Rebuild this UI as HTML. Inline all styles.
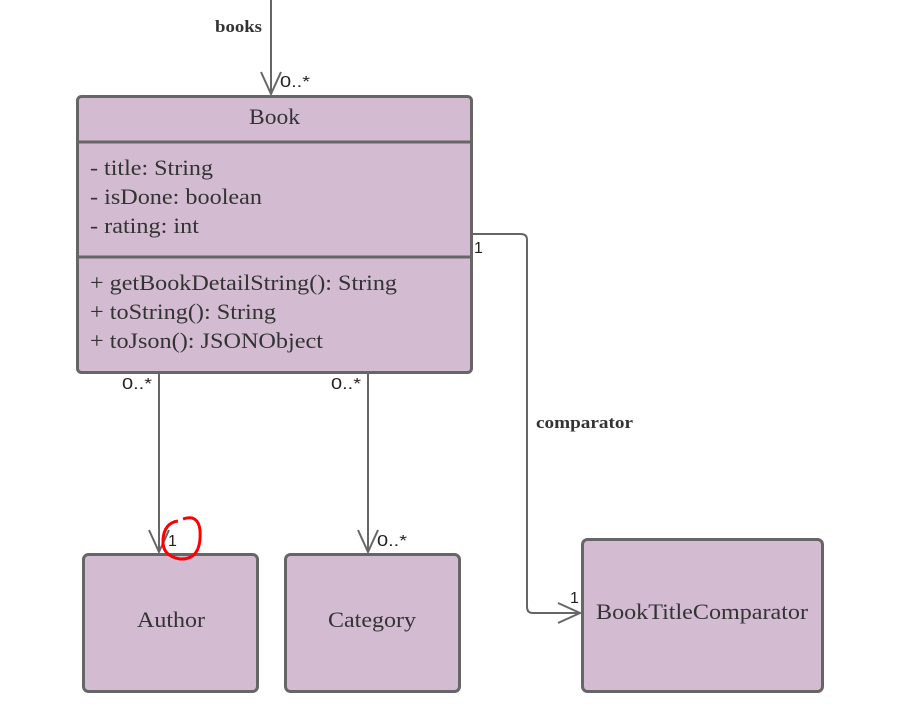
<!DOCTYPE html>
<html><head><meta charset="utf-8"><style>
html,body{margin:0;padding:0;background:#fff;}
svg{display:block}
.s{font-family:"Liberation Serif",serif;fill:#333;}
.a{font-family:"Liberation Sans",sans-serif;fill:#222;font-size:16px;}
</style></head><body>
<svg width="899" height="719" viewBox="0 0 899 719" xmlns="http://www.w3.org/2000/svg">
<g fill="#d3bbd2" stroke="#666" stroke-width="3">
<rect x="77.5" y="96.5" width="394" height="276" rx="4"/>
<rect x="83.5" y="554.5" width="174" height="137" rx="5"/>
<rect x="285.5" y="554.5" width="174" height="137" rx="5"/>
<rect x="582.5" y="539.5" width="240" height="152" rx="5"/>
</g>
<g stroke="#666" stroke-width="3"><line x1="77" y1="142" x2="472" y2="142"/><line x1="77" y1="257" x2="472" y2="257"/></g>
<g fill="none" stroke="#666" stroke-width="2">
<line x1="271" y1="0" x2="271" y2="94"/><polyline points="261,72 271,94 281,72"/>
<line x1="159" y1="374" x2="159" y2="552"/><polyline points="149,530 159,552 169,530"/>
<line x1="368" y1="374" x2="368" y2="552"/><polyline points="358,530 368,552 378,530"/>
<path d="M473 234 H521 Q527 234 527 240 V607 Q527 613 533 613 H580"/><polyline points="558,603 580,613 558,623"/>
</g>
<text x="215" y="32" class="s" font-size="17" font-weight="bold" textLength="47" lengthAdjust="spacingAndGlyphs">books</text>
<text x="536" y="428" class="s" font-size="17" font-weight="bold" textLength="97" lengthAdjust="spacingAndGlyphs">comparator</text>
<text x="280" y="87" class="a" textLength="30" lengthAdjust="spacingAndGlyphs">0..*</text>
<text x="474" y="253" class="a">1</text>
<text x="122" y="389" class="a" textLength="30" lengthAdjust="spacingAndGlyphs">0..*</text>
<text x="331" y="389" class="a" textLength="30" lengthAdjust="spacingAndGlyphs">0..*</text>
<text x="168" y="546" class="a">1</text>
<text x="377" y="546" class="a" textLength="30" lengthAdjust="spacingAndGlyphs">0..*</text>
<text x="570" y="603" class="a">1</text>
<g class="s" font-size="22" lengthAdjust="spacingAndGlyphs">
<text x="249" y="124" textLength="51" lengthAdjust="spacingAndGlyphs">Book</text>
<text x="90" y="175" textLength="123" lengthAdjust="spacingAndGlyphs">- title: String</text>
<text x="90" y="204" textLength="172" lengthAdjust="spacingAndGlyphs">- isDone: boolean</text>
<text x="90" y="233" textLength="109" lengthAdjust="spacingAndGlyphs">- rating: int</text>
<text x="90" y="290" textLength="307" lengthAdjust="spacingAndGlyphs">+ getBookDetailString(): String</text>
<text x="90" y="319" textLength="186" lengthAdjust="spacingAndGlyphs">+ toString(): String</text>
<text x="90" y="348" textLength="233" lengthAdjust="spacingAndGlyphs">+ toJson(): JSONObject</text>
<text x="137" y="627" textLength="68" lengthAdjust="spacingAndGlyphs">Author</text>
<text x="328" y="627" textLength="88" lengthAdjust="spacingAndGlyphs">Category</text>
<text x="596" y="619" textLength="212" lengthAdjust="spacingAndGlyphs">BookTitleComparator</text>
</g>
<path d="M183 519 Q198 514 200 530 Q202 560 180 559 Q162 556 163 540 Q164 523 178 521" fill="none" stroke="#f00" stroke-width="3"/>
</svg>
</body></html>
